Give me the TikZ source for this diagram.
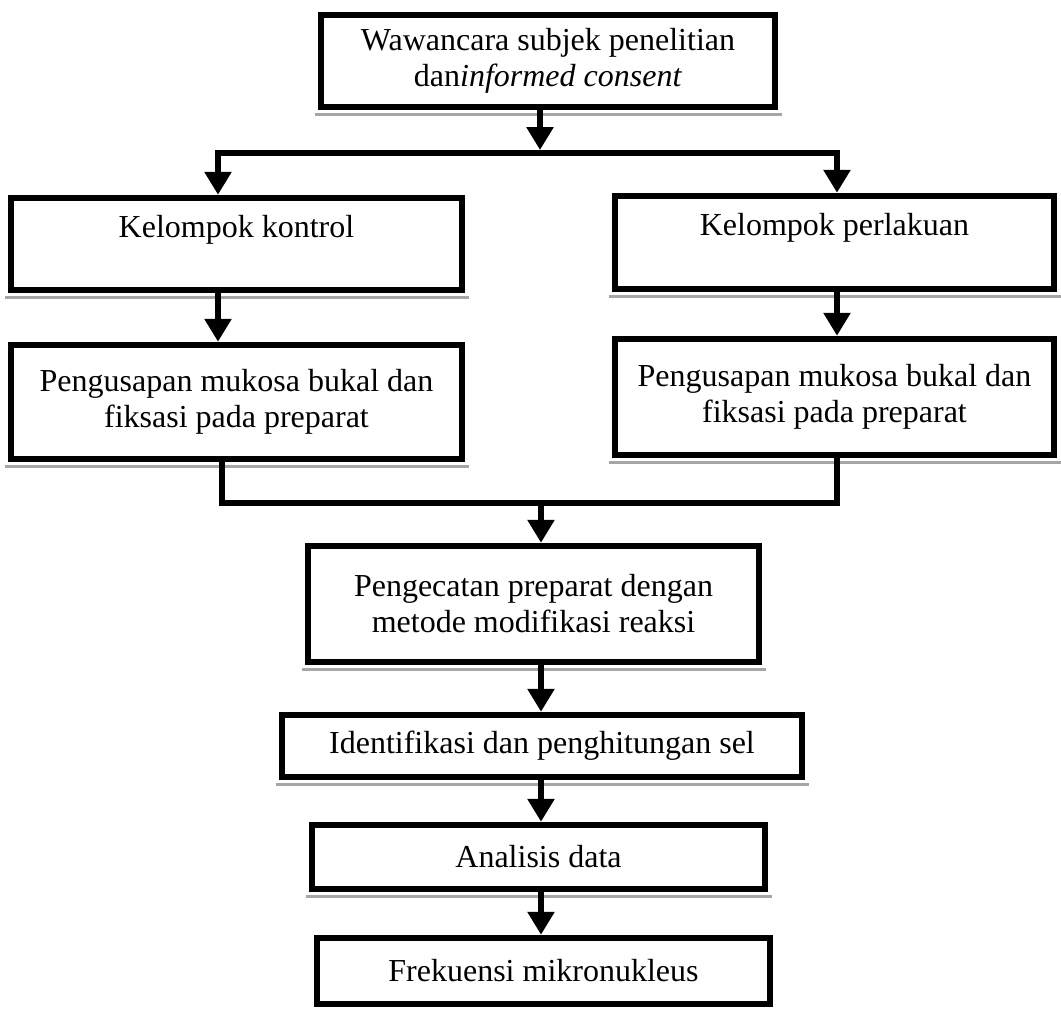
\documentclass[tikz,border=0pt]{standalone}
\usepackage{fontspec}
\setmainfont{Liberation Serif}
\usepackage{tikz}
\usetikzlibrary{arrows.meta,calc,positioning}

\begin{document}
\begin{tikzpicture}[x=1pt,y=-1pt,
    flowbox/.style={draw,line width=6.5pt,fill=white,inner sep=0pt,align=center,
        font=\fontsize{32}{36}\selectfont},
    flowline/.style={line width=6.5pt,line join=miter},
    flowarrow/.style={flowline,-{Triangle[width=26pt,length=23pt]}},
    boxshadow/.style={gray!70,line width=3pt}]
    \useasboundingbox (0,0) rectangle (1061,1010);

    % Boxes
    \node[flowbox,minimum width=454pt,minimum height=92pt] (wawancara) at (548,61)
        {Wawancara subjek penelitian\\ dan\textit{informed consent}};
    \node[flowbox,minimum width=451pt,minimum height=92pt] (kontrol) at (236.5,244)
        {Kelompok kontrol\\ \mbox{}};
    \node[flowbox,minimum width=439pt,minimum height=93pt] (perlakuan) at (834.5,242.5)
        {Kelompok perlakuan\\ \mbox{}};
    \node[flowbox,minimum width=451pt,minimum height=114pt] (usapKontrol) at (236.5,402)
        {Pengusapan mukosa bukal dan\\ fiksasi pada preparat};
    \node[flowbox,minimum width=439pt,minimum height=116pt] (usapPerlakuan) at (834.5,397)
        {Pengusapan mukosa bukal dan\\ fiksasi pada preparat};
    \node[flowbox,minimum width=451pt,minimum height=116pt] (pengecatan) at (533.5,604)
        {Pengecatan preparat dengan\\ metode modifikasi reaksi};
    \node[flowbox,minimum width=520pt,minimum height=62pt] (identifikasi) at (542,746)
        {Identifikasi dan penghitungan sel};
    \node[flowbox,minimum width=453pt,minimum height=64pt] (analisis) at (538.5,857)
        {Analisis data};
    \node[flowbox,minimum width=453pt,minimum height=66pt] (frekuensi) at (543.5,971)
        {Frekuensi mikronukleus};

    % Shadows under the boxes
    \draw[boxshadow] ([xshift=-3pt,yshift=-4.5pt]wawancara.south west) -- ([xshift=4pt,yshift=-4.5pt]wawancara.south east);
    \draw[boxshadow] ([xshift=-3pt,yshift=-4.5pt]kontrol.south west) -- ([xshift=4pt,yshift=-4.5pt]kontrol.south east);
    \draw[boxshadow] ([xshift=-3pt,yshift=-4.5pt]perlakuan.south west) -- ([xshift=4pt,yshift=-4.5pt]perlakuan.south east);
    \draw[boxshadow] ([xshift=-3pt,yshift=-4.5pt]usapKontrol.south west) -- ([xshift=4pt,yshift=-4.5pt]usapKontrol.south east);
    \draw[boxshadow] ([xshift=-3pt,yshift=-4.5pt]usapPerlakuan.south west) -- ([xshift=4pt,yshift=-4.5pt]usapPerlakuan.south east);
    \draw[boxshadow] ([xshift=-3pt,yshift=-4.5pt]pengecatan.south west) -- ([xshift=4pt,yshift=-4.5pt]pengecatan.south east);
    \draw[boxshadow] ([xshift=-3pt,yshift=-4.5pt]identifikasi.south west) -- ([xshift=4pt,yshift=-4.5pt]identifikasi.south east);
    \draw[boxshadow] ([xshift=-3pt,yshift=-4.5pt]analisis.south west) -- ([xshift=4pt,yshift=-4.5pt]analisis.south east);

    % Branch points
    \coordinate (split) at (540,153);
    \coordinate (splitL) at (218,153);
    \coordinate (splitR) at (837,153);
    \coordinate (merge) at (541,503);
    \coordinate (mergeL) at (222,503);
    \coordinate (mergeR) at (837,503);

    % Split into two groups
    \draw[flowarrow] (wawancara.south -| split) -- ([yshift=3pt]split);
    \draw[flowline,{Triangle[width=26pt,length=23pt]}-{Triangle[width=26pt,length=23pt]}]
        (kontrol.north -| splitL) -- (splitL) -- (splitR) -- (perlakuan.north -| splitR);
    \draw[flowarrow] (kontrol.south -| splitL) -- (usapKontrol.north -| splitL);
    \draw[flowarrow] (perlakuan.south -| splitR) -- (usapPerlakuan.north -| splitR);

    % Join again
    \draw[flowline] (usapKontrol.south -| mergeL) -- (mergeL) -- (mergeR) -- (usapPerlakuan.south -| mergeR);
    \draw[flowarrow] (merge) -- (pengecatan.north -| merge);
    \draw[flowarrow] (pengecatan.south -| merge) -- (identifikasi.north -| merge);
    \draw[flowarrow] (identifikasi.south -| merge) -- (analisis.north -| merge);
    \draw[flowarrow] (analisis.south -| merge) -- (frekuensi.north -| merge);
\end{tikzpicture}
\end{document}
